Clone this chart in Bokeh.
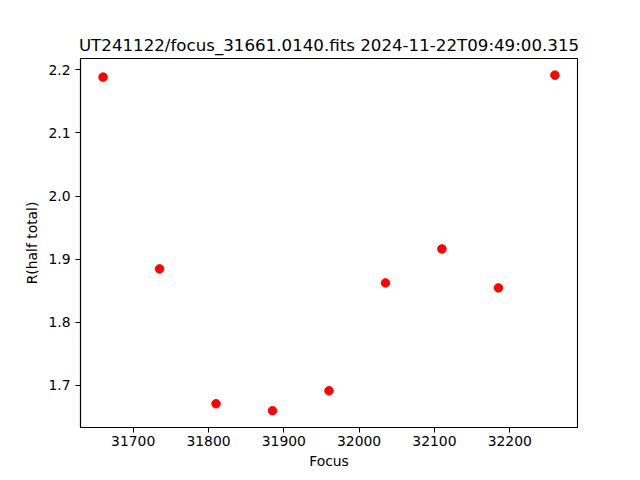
from bokeh.plotting import figure
from bokeh.models import FixedTicker, PrintfTickFormatter, Range1d
from bokeh.embed import file_html
from bokeh.resources import INLINE

focus = [31660, 31735, 31810, 31885, 31960, 32035, 32110, 32185, 32260]
r_half = [2.1885, 1.8847, 1.6710, 1.6600, 1.6916, 1.8625, 1.9163, 1.8546, 2.1916]
x_ticks = [31700, 31800, 31900, 32000, 32100, 32200]
y_ticks = [1.7, 1.8, 1.9, 2.0, 2.1, 2.2]
title_text = "UT241122/focus_31661.0140.fits 2024-11-22T09:49:00.315"

FONT = "DejaVu Sans"

p = figure(output_backend="svg", toolbar_location=None,
           frame_width=497, frame_height=369,
           min_border_left=80, min_border_top=58, min_border_right=10, min_border_bottom=10,
           x_range=Range1d(31630, 32290), y_range=Range1d(1.6334, 2.218),
           title=title_text)

p.scatter(focus, r_half, size=8.5, fill_color="red", line_color="red")

p.title.align = "center"
p.title.text_font = FONT
p.title.text_font_size = "16.67px"
p.title.text_font_style = "normal"
p.title.text_color = "black"
p.title.standoff = 8

p.xgrid.visible = False
p.ygrid.visible = False
p.outline_line_color = "black"
p.outline_line_width = 1.1
p.outline_line_alpha = 1.0

for ax in (p.xaxis[0], p.yaxis[0]):
    ax.axis_line_color = "black"
    ax.axis_line_width = 1.1
    ax.major_tick_line_color = "black"
    ax.major_tick_out = 5
    ax.major_tick_in = 0
    ax.minor_tick_line_color = None
    ax.major_label_text_font = FONT
    ax.major_label_text_font_size = "13.9px"
    ax.major_label_text_color = "black"
    ax.axis_label_text_font = FONT
    ax.axis_label_text_font_size = "13.9px"
    ax.axis_label_text_font_style = "normal"
    ax.axis_label_text_color = "black"

p.xaxis[0].ticker = FixedTicker(ticks=x_ticks)
p.xaxis[0].formatter = PrintfTickFormatter(format="%d")
p.xaxis[0].axis_label = "Focus"
p.xaxis[0].major_label_standoff = 3
p.xaxis[0].axis_label_standoff = 4

p.yaxis[0].ticker = FixedTicker(ticks=y_ticks)
p.yaxis[0].formatter = PrintfTickFormatter(format="%.1f")
p.yaxis[0].axis_label = "R(half total)"
p.yaxis[0].major_label_standoff = 5
p.yaxis[0].axis_label_standoff = 5

open("out.html", "w").write(file_html(p, INLINE))
